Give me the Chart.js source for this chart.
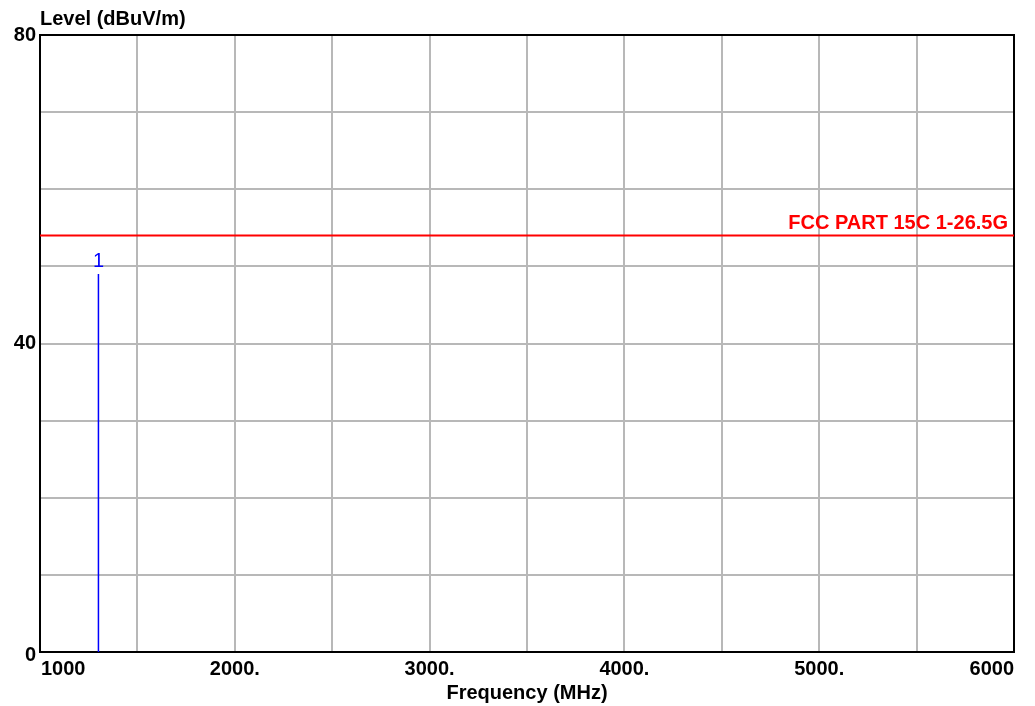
<!DOCTYPE html>
<html>
<head>
<meta charset="utf-8">
<script src="https://cdn.jsdelivr.net/npm/chart.js@4/dist/chart.umd.min.js"></script>
<style>
  html, body { margin: 0; padding: 0; background: #fff; }
  #wrap { width: 1035px; height: 706px; }
</style>
</head>
<body>
<div id="wrap"><canvas id="emiChart"></canvas></div>
<script>
// chart data
var xTickLabels = ['1000', '2000.', '3000.', '4000.', '5000.', '6000'];
var xTickValues = [1000, 2000, 3000, 4000, 5000, 6000];
var yTickValues = [0, 40, 80];
var limitName = 'FCC PART 15C 1-26.5G';
var limitFreq = [1000, 6000];
var limitLevel = [54, 54];
var markerFreq = [1300, 1300];
var markerLevel = [0, 49];
var markerLabel = '1';

var FONT = '"Liberation Sans", Arial, sans-serif';

function toPoints(xs, ys) {
    return xs.map(function (x, i) { return { x: x, y: ys[i] }; });
}

var textPlugin = {
    id: 'textPlugin',
    beforeDatasetsDraw: function (chart) {
        var ctx = chart.ctx, a = chart.chartArea;
        ctx.save();
        ctx.strokeStyle = '#000';
        ctx.lineWidth = 2;
        ctx.strokeRect(a.left, a.top, a.right - a.left, a.bottom - a.top);
        ctx.restore();
    },
    afterDatasetsDraw: function (chart) {
        var ctx = chart.ctx, a = chart.chartArea;
        var xs = chart.scales.x, ys = chart.scales.y;
        ctx.save();
        ctx.fillStyle = '#000';
        ctx.font = 'bold 20px ' + FONT;

        // y ticks
        ctx.textAlign = 'right';
        ctx.textBaseline = 'middle';
        yTickValues.forEach(function (v) {
            var py = ys.getPixelForValue(v);
            if (v === 0) py += 3;
            ctx.fillText(String(v), a.left - 4, py);
        });

        // x ticks
        ctx.textBaseline = 'top';
        xTickValues.forEach(function (v, i) {
            var px = xs.getPixelForValue(v);
            if (i === 0) { ctx.textAlign = 'left'; px += 1; }
            else if (i === xTickValues.length - 1) { ctx.textAlign = 'right'; }
            else { ctx.textAlign = 'center'; }
            ctx.fillText(xTickLabels[i], px, a.bottom + 7);
        });

        // axis titles
        ctx.textAlign = 'left';
        ctx.textBaseline = 'alphabetic';
        ctx.fillText('Level (dBuV/m)', a.left, 25);
        ctx.textAlign = 'center';
        ctx.fillText('Frequency (MHz)', (a.left + a.right) / 2, 699);

        // limit line name
        ctx.fillStyle = '#ff0000';
        ctx.textAlign = 'right';
        ctx.fillText(limitName, a.right - 6, ys.getPixelForValue(limitLevel[1]) - 7);

        // marker label
        ctx.fillStyle = '#0000ff';
        ctx.font = '20px ' + FONT;
        ctx.textAlign = 'center';
        ctx.fillText(markerLabel, xs.getPixelForValue(markerFreq[1]), ys.getPixelForValue(markerLevel[1]) - 7);
        ctx.restore();
    }
};

var ctx = document.getElementById('emiChart').getContext('2d');
var emiChart = new Chart(ctx, {
    type: 'line',
    data: {
        datasets: [{
            label: limitName,
            data: toPoints(limitFreq, limitLevel),
            borderColor: '#ff0000',
            borderWidth: 2,
            pointRadius: 0
        }, {
            label: 'Marker ' + markerLabel,
            data: toPoints(markerFreq, markerLevel),
            borderColor: '#0000ff',
            borderWidth: 1.5,
            pointRadius: 0
        }]
    },
    options: {
        responsive: true,
        maintainAspectRatio: false,
        animation: false,
        layout: { padding: { left: 40, right: 21, top: 35, bottom: 54 } },
        plugins: {
            legend: { display: false },
            tooltip: { enabled: false }
        },
        scales: {
            x: {
                type: 'linear',
                min: 1000,
                max: 6000,
                ticks: { display: false, stepSize: 500 },
                grid: { color: '#b8b8b8', lineWidth: 2, drawTicks: false },
                border: { display: false }
            },
            y: {
                min: 0,
                max: 80,
                ticks: { display: false, stepSize: 10 },
                grid: { color: '#b8b8b8', lineWidth: 2, drawTicks: false },
                border: { display: false }
            }
        }
    },
    plugins: [textPlugin]
});
</script>
</body>
</html>
